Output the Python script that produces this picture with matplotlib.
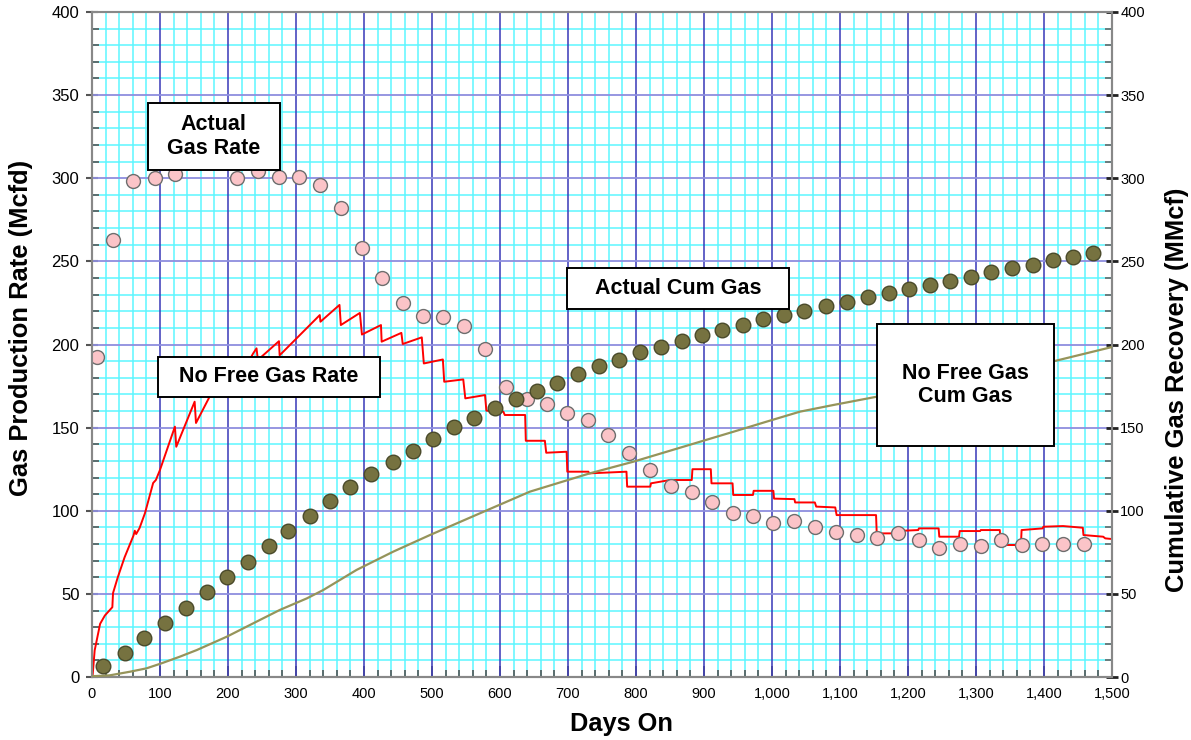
import matplotlib
matplotlib.use("Agg")
import matplotlib.pyplot as plt
from matplotlib.patches import Rectangle
from matplotlib.ticker import MultipleLocator, FuncFormatter

plt.rcParams['font.family'] = ['Liberation Sans', 'DejaVu Sans']

# Actual gas rate (Mcfd), monthly points
rate_days = [7, 31, 60, 93, 122, 213, 244, 275, 304, 335, 366, 397, 426, 457, 487, 516,
             547, 578, 609, 640, 669, 699, 729, 759, 790, 821, 851, 882, 912, 943, 972,
             1001, 1032, 1063, 1094, 1125, 1154, 1185, 1216, 1246, 1276, 1307, 1337,
             1368, 1397, 1428, 1459]
rate_vals = [192.5, 262.9, 298.3, 300.2, 302.6, 300.2, 304.4, 300.8, 300.8, 296, 282.1,
             258, 240, 225, 217.1, 216.5, 211.1, 197.3, 174.4, 167.2, 164.2, 158.8, 154.6,
             145.6, 134.7, 124.5, 114.9, 111.3, 105.3, 98.6, 96.8, 92.6, 93.8, 90.2, 87.2,
             85.4, 83.6, 86.6, 82.4, 77.6, 80, 78.8, 82.4, 79.4, 80, 80, 80]

# Actual cumulative gas (MMcf)
cum_days = [16, 48, 77, 108, 138, 169, 199, 229, 260, 289, 320, 350, 380, 411, 442, 472,
            502, 532, 562, 593, 624, 654, 684, 715, 746, 775, 806, 837, 868, 897, 927, 957,
            987, 1018, 1047, 1079, 1110, 1141, 1172, 1202, 1232, 1262, 1293, 1322, 1353,
            1384, 1413, 1443, 1472]
cum_vals = [6.6, 14.6, 23.3, 32.3, 41.3, 51, 60, 69.4, 78.8, 88, 96.8, 105.9, 114.5, 122,
            129.5, 136, 143, 150.4, 155.6, 161.6, 167, 172.2, 177, 182.3, 187, 190.7, 195.5,
            198.5, 202, 205.7, 208.7, 211.7, 215.3, 217.7, 220, 223, 225.6, 228.6, 231,
            233.4, 235.8, 238, 240.6, 243.6, 246, 247.8, 250.8, 252.6, 255]

# No free gas rate (simulated)
nfg_rate_days = [0, 1, 4, 12, 19, 30, 31, 38, 48, 61, 63, 65, 70, 78, 90, 94, 100, 122, 124,
                 151, 153, 173, 185, 187, 214, 216, 237, 242, 244, 275, 276, 335, 336, 364,
                 366, 394, 397, 425, 426, 455, 457, 485, 488, 516, 518, 546, 549, 578, 580,
                 605, 607, 637, 638, 666, 668, 698, 699, 730, 731, 786, 787, 821, 822, 850,
                 882, 883, 910, 911, 942, 943, 972, 973, 1002, 1003, 1033, 1034, 1063, 1065,
                 1093, 1095, 1153, 1154, 1183, 1184, 1215, 1216, 1245, 1246, 1275, 1276,
                 1306, 1307, 1335, 1336, 1366, 1367, 1398, 1399, 1428, 1457, 1458, 1487,
                 1490, 1500]
nfg_rate_vals = [0, 1.2, 16, 32, 37, 42, 50.5, 60, 72, 85, 88, 86, 89.6, 98.6, 116.7, 118.5,
                 124.5, 150.6, 138.5, 165.6, 152.8, 168.6, 178, 171, 186, 179, 194.6, 197.7,
                 190.7, 202, 193.5, 217.7, 213.7, 223.8, 211.7, 219, 206, 211.7, 201.7, 207,
                 200.3, 204.3, 188.6, 191, 177.6, 179, 167.6, 169.6, 160.2, 159.6, 157.6,
                 157.6, 142.1, 142.1, 134.9, 135.5, 123.5, 123.5, 122.5, 123.5, 114.5, 114.5,
                 116.5, 118.5, 118.5, 125, 125, 116.5, 116.5, 109.5, 109.5, 112, 112, 107.3,
                 107, 105, 105, 102.5, 102, 97.4, 97.4, 86.4, 86.4, 87.8, 88.4, 89.4, 89.4,
                 84.4, 84.4, 87.8, 87.8, 88.4, 88.4, 79.4, 79.4, 88.4, 89.4, 90.4, 90.8,
                 89.8, 85.4, 84.4, 83.4, 83]

# No free gas cumulative (simulated)
nfg_cum_days = [0, 1, 26, 56, 80, 102, 129, 154, 198, 242, 276, 316, 340, 389, 443, 497,
                556, 644, 732, 796, 845, 894, 943, 992, 1041, 1090, 1154, 1200, 1300, 1400,
                1500]
nfg_cum_vals = [0, 0.5, 1, 3.2, 5.2, 8.2, 12.2, 16.2, 24.2, 33.3, 40.3, 47.3, 52.3, 64.4,
                75.4, 85.4, 95.9, 111.5, 122.5, 129.5, 135.5, 141.5, 147.5, 153.6, 159.6,
                163.6, 168.6, 172, 180, 188.5, 198.5]

fig = plt.figure(figsize=(11.91, 7.40), dpi=100)
ax = fig.add_axes([0.0772, 0.0851, 0.8565, 0.8987])
ax2 = ax.twinx()

for a in (ax, ax2):
    a.set_xlim(0, 1500)
    a.set_ylim(0, 400)

# grid: cyan minor lines, blue major lines drawn above them
ax.xaxis.set_major_locator(MultipleLocator(100))
ax.xaxis.set_minor_locator(MultipleLocator(20))
ax.yaxis.set_major_locator(MultipleLocator(50))
ax.yaxis.set_minor_locator(MultipleLocator(10))
ax2.yaxis.set_major_locator(MultipleLocator(50))
ax2.yaxis.set_minor_locator(MultipleLocator(10))
ax.grid(which='minor', color='#5cf6ff', lw=1.1, zorder=0)
ax.set_axisbelow(True)
for xv in range(100, 1500, 100):
    ax.axvline(xv, color='#3838b8', lw=1.1, zorder=1)
for yv in range(50, 400, 50):
    ax.axhline(yv, color='#8e8ede', lw=1.3, zorder=1)

ax.plot(nfg_rate_days, nfg_rate_vals, color='#ff0000', lw=1.4, zorder=3)
ax.plot(rate_days, rate_vals, 'o', ms=10, mfc='#fbc4c8', mec='#6e6e6e', mew=1.0, zorder=4)
ax2.plot(nfg_cum_days, nfg_cum_vals, color='#96945a', lw=1.6, zorder=3)
ax2.plot(cum_days, cum_vals, 'o', ms=10.5, mfc='#767240', mec='#4a4a2a', mew=1.0, zorder=4)

# label boxes (x0, y0, width, height in data units)
boxes = [("Actual\nGas Rate", 82, 305, 194, 40),
         ("No Free Gas Rate", 97, 168.5, 326, 24),
         ("Actual Cum Gas", 699, 221.5, 326, 24.5),
         ("No Free Gas\nCum Gas", 1154, 139, 260, 73.5)]
for txt, x0, y0, w, h in boxes:
    ax2.add_patch(Rectangle((x0, y0), w, h, facecolor='white', edgecolor='black',
                            lw=1.4, zorder=6))
    ax2.text(x0 + w / 2, y0 + h / 2, txt, ha='center', va='center', fontsize=15.5,
             fontweight='bold', linespacing=1.15, zorder=7)

# spines and ticks
for a in (ax, ax2):
    for s in a.spines.values():
        s.set_color('#888888')
        s.set_linewidth(1.5)
ax.spines['top'].set_color('#aaaaaa')
ax.tick_params(which='both', colors='#555555', labelcolor='black')
ax.tick_params(axis='y', which='major', direction='inout', length=8, width=1.5, pad=5,
               labelsize=12)
ax.tick_params(axis='y', which='minor', direction='in', length=5, width=1.2)
ax.tick_params(axis='x', which='major', direction='in', length=8, width=1.2, pad=7,
               labelsize=10.5)
ax.tick_params(axis='x', which='minor', direction='in', length=5, width=1.2)
ax2.tick_params(which='major', direction='inout', length=8, width=2, colors='#222222',
                labelcolor='black', labelsize=10.5, pad=2)
ax2.tick_params(which='minor', direction='in', length=5, width=1.2, colors='#666666')
ax.xaxis.set_major_formatter(FuncFormatter(lambda v, p: f"{v:,.0f}"))
ax.yaxis.set_major_formatter(FuncFormatter(lambda v, p: f"{v:.0f}"))
ax2.yaxis.set_major_formatter(FuncFormatter(lambda v, p: f"{v:.0f}"))

ax.set_xlabel("Days On", fontsize=18.3, fontweight='bold')
ax.set_ylabel("Gas Production Rate (Mcfd)", fontsize=18.4, fontweight='bold')
ax2.set_ylabel("Cumulative Gas Recovery (MMcf)", fontsize=18.4, fontweight='bold',
               rotation=90)
ax.xaxis.set_label_coords(0.519, -0.0526)
ax.yaxis.set_label_coords(-0.058, 0.525)
ax2.yaxis.set_label_coords(1.052, 0.432)

fig.savefig("out.png", dpi=100)
